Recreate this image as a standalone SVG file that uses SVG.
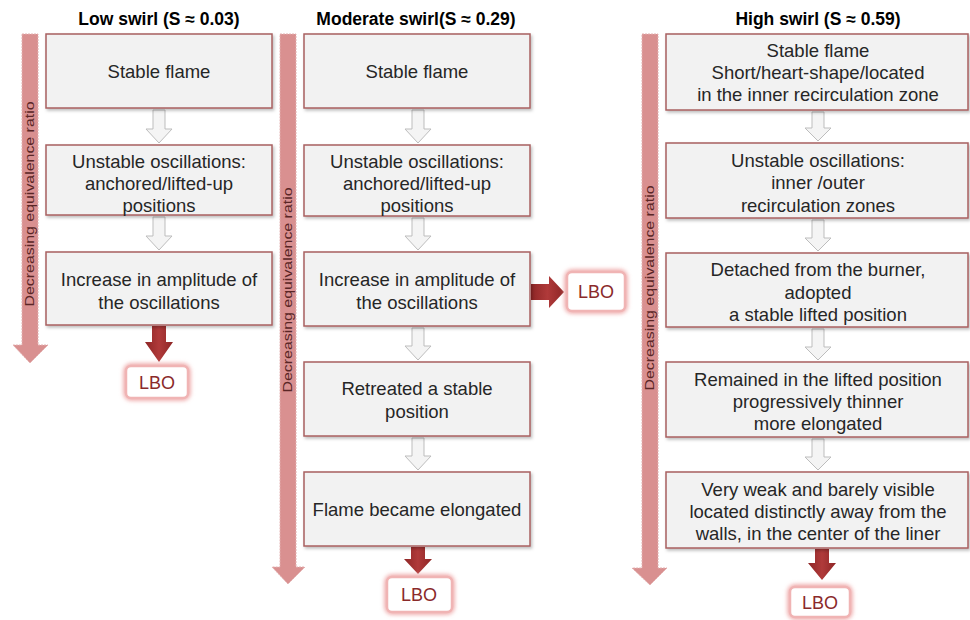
<svg xmlns="http://www.w3.org/2000/svg" width="970" height="620" viewBox="0 0 970 620">
<defs>
<filter id="sh" x="-5%" y="-10%" width="112%" height="130%">
<feDropShadow dx="1.5" dy="2" stdDeviation="1.5" flood-color="#000" flood-opacity="0.25"/>
</filter>
<filter id="glow" x="-30%" y="-40%" width="160%" height="180%">
<feGaussianBlur stdDeviation="2"/>
</filter>
<linearGradient id="red" x1="0" y1="0" x2="1" y2="0">
<stop offset="0" stop-color="#8e2626"/>
<stop offset="0.5" stop-color="#b03a3a"/>
<stop offset="1" stop-color="#8e2626"/>
</linearGradient>
</defs>
<style>
.box{fill:#f2f2f2;stroke:#a86060;stroke-width:1.5;filter:url(#sh)}
.t{font-family:"Liberation Sans",Arial,sans-serif;font-size:18.5px;fill:#262626;text-anchor:middle}
.h{font-family:"Liberation Sans",Arial,sans-serif;font-size:17.5px;font-weight:bold;fill:#000;text-anchor:middle}
.big{fill:#d99090;stroke:#e3b0b0;stroke-width:1;stroke-dasharray:2 1}
.vt{font-family:"Liberation Sans",Arial,sans-serif;font-size:13px;fill:#5a2626;text-anchor:middle}
.ga{fill:#f4f4f4;stroke:#bdbdbd;stroke-width:1}
.ra{fill:url(#red)}
.lboglow{fill:none;stroke:#eea3a3;stroke-width:5;filter:url(#glow)}
.lbo{fill:#fff;stroke:#f0b4b4;stroke-width:2.5}
.lt{font-family:"Liberation Sans",Arial,sans-serif;font-size:18px;fill:#8a2a2a;text-anchor:middle}
</style>
<rect width="970" height="620" fill="#fff"/>

<g id="headers">
<text class="h" x="159" y="25">Low swirl (S ≈ 0.03)</text>
<text class="h" x="416" y="25">Moderate swirl(S ≈ 0.29)</text>
<text class="h" x="818" y="25">High swirl (S ≈ 0.59)</text>
</g>

<g id="ratio-arrows">
<path class="big" d="M22,34 H38 V345 H48 L30,363 L13,345 H22 Z"/>
<text class="vt" transform="translate(34,204) rotate(-90)" textLength="205" lengthAdjust="spacingAndGlyphs">Decreasing equivalence ratio</text>
<path class="big" d="M280,34 H296 V567 H305 L288,584 L272,567 H280 Z"/>
<text class="vt" transform="translate(292,290) rotate(-90)" textLength="205" lengthAdjust="spacingAndGlyphs">Decreasing equivalence ratio</text>
<path class="big" d="M642,34 H658 V568 H667 L650,585 L632,568 H642 Z"/>
<text class="vt" transform="translate(654,288) rotate(-90)" textLength="205" lengthAdjust="spacingAndGlyphs">Decreasing equivalence ratio</text>
</g>

<g id="connectors">
<path class="ga" d="M153,110 H165 V129 H172 L159,143 L146,129 H153 Z"/>
<path class="ga" d="M153,217 H165 V236 H172 L159,250 L146,236 H153 Z"/>
<path class="ga" d="M412,110 H424 V129 H431 L418,143 L405,129 H412 Z"/>
<path class="ga" d="M412,218 H424 V236 H431 L418,250 L405,236 H412 Z"/>
<path class="ga" d="M412,328 H424 V346 H431 L418,360 L405,346 H412 Z"/>
<path class="ga" d="M412,438 H424 V456 H431 L418,470 L405,456 H412 Z"/>
<path class="ga" d="M812,112 H824 V128 H831 L818,141 L805,128 H812 Z"/>
<path class="ga" d="M812,220 H824 V238 H831 L818,251 L805,238 H812 Z"/>
<path class="ga" d="M812,329 H824 V347 H831 L818,360 L805,347 H812 Z"/>
<path class="ga" d="M812,439 H824 V457 H831 L818,470 L805,457 H812 Z"/>
<path class="ra" d="M152,326 H166 V342 H173 L159,362 L145,342 H152 Z"/>
<path class="ra" d="M411,547 H425 V559 H432 L418,574 L404,559 H411 Z"/>
<path class="ra" d="M815,549 H829 V563 H836 L822,580 L808,563 H815 Z"/>
<path class="ra" d="M531,284 H549 V276 L564,292 L549,308 V300 H531 Z"/>
</g>

<g id="low-1"><rect class="box" x="46" y="34" width="226" height="74"/><text class="t" x="159" y="78">Stable flame</text></g>
<g id="low-2"><rect class="box" x="46" y="145" width="226" height="70"/>
<text class="t" x="159" y="168">Unstable oscillations:</text><text class="t" x="159" y="190">anchored/lifted-up</text><text class="t" x="159" y="212">positions</text></g>
<g id="low-3"><rect class="box" x="46" y="252" width="226" height="73"/>
<text class="t" x="159" y="286">Increase in amplitude of</text><text class="t" x="159" y="309">the oscillations</text></g>
<g id="low-lbo"><rect class="lboglow" x="126" y="366" width="62" height="32" rx="5"/><rect class="lbo" x="126" y="366" width="62" height="32" rx="5"/><text class="lt" x="157" y="389">LBO</text></g>

<g id="mod-1"><rect class="box" x="304" y="34" width="226" height="74"/><text class="t" x="417" y="78">Stable flame</text></g>
<g id="mod-2"><rect class="box" x="304" y="145" width="226" height="71"/>
<text class="t" x="417" y="168">Unstable oscillations:</text><text class="t" x="417" y="190">anchored/lifted-up</text><text class="t" x="417" y="212">positions</text></g>
<g id="mod-3"><rect class="box" x="304" y="252" width="226" height="74"/>
<text class="t" x="417" y="286">Increase in amplitude of</text><text class="t" x="417" y="309">the oscillations</text></g>
<g id="mod-lbo-side"><rect class="lboglow" x="567" y="272" width="58" height="39" rx="5"/><rect class="lbo" x="567" y="272" width="58" height="39" rx="5"/><text class="lt" x="596" y="298">LBO</text></g>
<g id="mod-4"><rect class="box" x="304" y="362" width="226" height="74"/>
<text class="t" x="417" y="395">Retreated a stable</text><text class="t" x="417" y="418">position</text></g>
<g id="mod-5"><rect class="box" x="304" y="472" width="226" height="74"/>
<text class="t" x="417" y="516">Flame became elongated</text></g>
<g id="mod-lbo"><rect class="lboglow" x="387" y="577" width="65" height="35" rx="5"/><rect class="lbo" x="387" y="577" width="65" height="35" rx="5"/><text class="lt" x="419" y="601">LBO</text></g>

<g id="high-1"><rect class="box" x="666" y="34" width="302" height="76"/>
<text class="t" x="818" y="57">Stable flame</text><text class="t" x="818" y="79">Short/heart-shape/located</text><text class="t" x="818" y="101">in the inner recirculation zone</text></g>
<g id="high-2"><rect class="box" x="666" y="143" width="302" height="75"/>
<text class="t" x="818" y="167">Unstable oscillations:</text><text class="t" x="818" y="189">inner /outer</text><text class="t" x="818" y="212">recirculation zones</text></g>
<g id="high-3"><rect class="box" x="666" y="253" width="302" height="74"/>
<text class="t" x="818" y="276">Detached from the burner,</text><text class="t" x="818" y="299">adopted</text><text class="t" x="818" y="321">a stable lifted position</text></g>
<g id="high-4"><rect class="box" x="666" y="362" width="302" height="75"/>
<text class="t" x="818" y="386">Remained in the lifted position</text><text class="t" x="818" y="408">progressively thinner</text><text class="t" x="818" y="430">more elongated</text></g>
<g id="high-5"><rect class="box" x="666" y="472" width="302" height="76"/>
<text class="t" x="818" y="496">Very weak and barely visible</text><text class="t" x="818" y="518">located distinctly away from the</text><text class="t" x="818" y="540">walls, in the center of the liner</text></g>
<g id="high-lbo"><rect class="lboglow" x="790" y="587" width="60" height="30" rx="5"/><rect class="lbo" x="790" y="587" width="60" height="30" rx="5"/><text class="lt" x="820" y="609">LBO</text></g>
</svg>
